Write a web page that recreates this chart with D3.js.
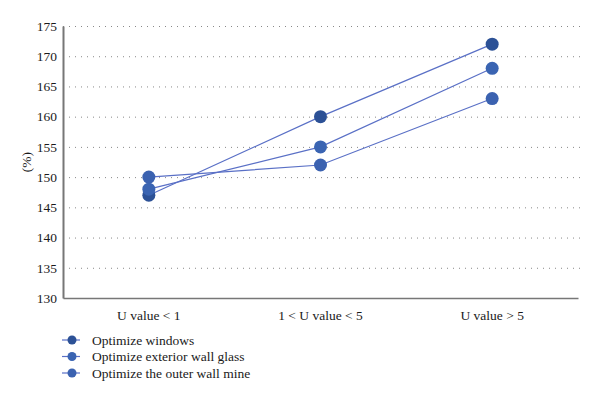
<!DOCTYPE html>
<html lang="en">
<head>
<meta charset="UTF-8" />
<title>U value chart</title>
<script src="https://d3js.org/d3.v7.min.js"></script>
<style>
  body { margin: 0; background: #fff; }
  svg { display: block; }
  text { font-family: 'Liberation Serif', 'DejaVu Serif', serif; font-size: 13.5px; fill: #1a1a1a; }
  .grid line { stroke: #888; stroke-dasharray: 1 5; }
  .grid path { stroke-width: 0; }
  .axis path, .axis line { stroke: #777; }
</style>
</head>
<body>
<svg width="600" height="397"></svg>
<script>
  // data
  var categories = ['U value < 1', '1 < U value < 5', 'U value > 5'];
  var seriesNames = ['Optimize windows', 'Optimize exterior wall glass', 'Optimize the outer wall mine'];
  var windows = [147, 160, 172];
  var wallGlass = [148, 155, 168];
  var wallMine = [150, 152, 163];
  var yTicks = [130, 135, 140, 145, 150, 155, 160, 165, 170, 175];

  var colors = ['#2c5196', '#3a64b2', '#3b62b0'];
  var series = [windows, wallGlass, wallMine];

  const svg = d3.select('svg');
  const plotLeft = 63, plotRight = 578, plotTop = 26, plotBottom = 298;

  const xScale = d3.scaleBand()
    .range([plotLeft, plotRight])
    .domain(categories);

  const yScale = d3.scaleLinear()
    .range([plotBottom, plotTop])
    .domain([130, 175]);

  // dotted grid lines
  svg.append('g')
    .attr('class', 'grid')
    .attr('transform', `translate(${plotLeft}, 0)`)
    .call(d3.axisLeft(yScale)
      .tickValues(yTicks.slice(1))
      .tickSize(-(plotRight - plotLeft + 2))
      .tickFormat(''));

  // x axis
  svg.append('g')
    .attr('class', 'axis')
    .attr('transform', `translate(0, ${plotBottom})`)
    .call(d3.axisBottom(xScale).tickSize(0).tickPadding(12))
    .call(g => g.select('.domain').attr('stroke-width', 1.5));

  // y axis
  svg.append('g')
    .attr('class', 'axis')
    .attr('transform', `translate(${plotLeft}, 0)`)
    .call(d3.axisLeft(yScale).tickValues(yTicks).tickSize(0).tickPadding(6))
    .call(g => g.select('.domain').attr('stroke-width', 2));

  svg.selectAll('.axis')
    .attr('font-family', null)
    .attr('font-size', null);
  svg.selectAll('.axis text')
    .style('font-family', "'Liberation Serif', 'DejaVu Serif', serif")
    .style('font-size', '13.5px')
    .style('fill', '#1a1a1a');

  const cx = (d, i) => xScale(categories[i]) + xScale.bandwidth() / 2;

  const line = d3.line()
    .x((d, i) => cx(d, i))
    .y((d) => yScale(d));

  series.forEach(function (s, k) {
    svg.append('path')
      .datum(s)
      .attr('d', line)
      .attr('fill', 'none')
      .attr('stroke', '#5a70c6')
      .attr('stroke-width', 1.2);
  });

  series.forEach(function (s, k) {
    svg.selectAll(null)
      .data(s)
      .enter()
      .append('circle')
      .attr('cx', (d, i) => cx(d, i))
      .attr('cy', (d) => yScale(d))
      .attr('r', 6.5)
      .attr('fill', colors[k]);
  });

  // y label
  svg.append('text')
    .attr('transform', `translate(31, ${(plotTop + plotBottom) / 2}) rotate(-90)`)
    .attr('text-anchor', 'middle')
    .text('(%)');

  // legend
  const legend = svg.append('g')
    .attr('transform', 'translate(62, 340)');

  seriesNames.forEach(function (name, k) {
    const g = legend.append('g').attr('transform', `translate(0, ${k * 16.5})`);
    g.append('line')
      .attr('x1', 0).attr('x2', 18)
      .attr('stroke', '#5a70c6')
      .attr('stroke-width', 1.2);
    g.append('circle')
      .attr('cx', 10)
      .attr('r', 4.5)
      .attr('fill', colors[k]);
    g.append('text')
      .attr('x', 30)
      .attr('dy', '0.35em')
      .text(name);
  });
</script>
</body>
</html>
